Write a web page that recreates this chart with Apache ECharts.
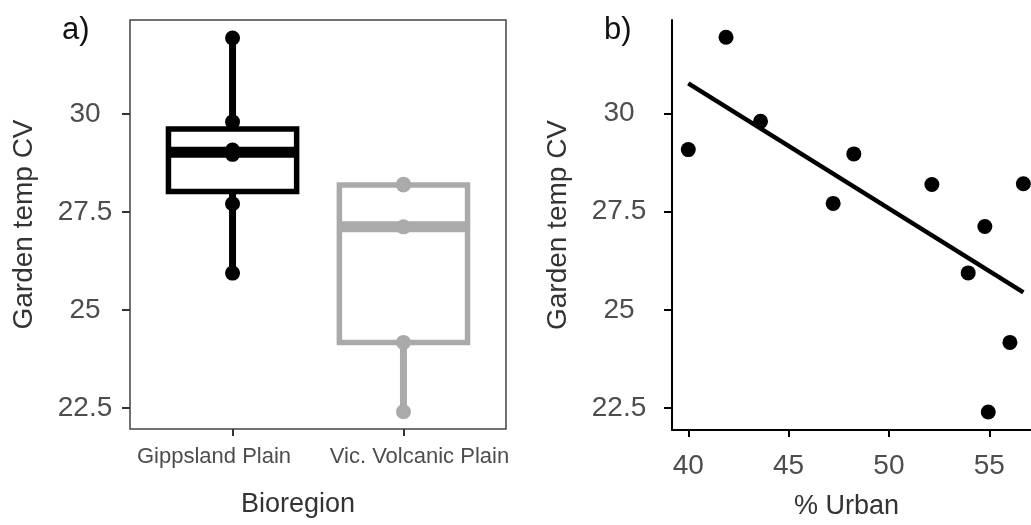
<!DOCTYPE html>
<html><head><meta charset="utf-8">
<script src="https://cdn.jsdelivr.net/npm/echarts@6/dist/echarts.min.js"></script>
<style>html,body{margin:0;padding:0;background:#fff}#c{width:1031px;height:525px}</style>
</head><body><div id="c"></div>
<script>
// ---- data ----
const regions = ['Gippsland Plain', 'Vic. Volcanic Plain'];
const urban    = [40.0, 41.88, 43.6, 47.22, 48.25, 52.14, 53.95, 54.78, 54.95, 56.03, 56.7];
const gardenCV = [29.08, 31.94, 29.80, 27.71, 28.97, 28.19, 25.94, 27.12, 22.40, 24.17, 28.21];
const regionOf = [0, 0, 0, 0, 0, 1, 0, 1, 1, 1, 1];
const cvTicks = [22.5, 25, 27.5, 30];
const urbanTicks = [40, 45, 50, 55];
const regionColors = ['#000000', '#aaaaaa'];
const panelLabels = ['a)', 'b)'];
const titleCV = 'Garden temp CV';
const titleRegion = 'Bioregion';
const titleUrban = '% Urban';

// ---- stats (ggplot-style boxplot, type-7 quantiles) ----
function quantile(sorted, p) {
  const h = (sorted.length - 1) * p, lo = Math.floor(h), hi = Math.ceil(h);
  return sorted[lo] + (h - lo) * (sorted[hi] - sorted[lo]);
}
const boxData = regions.map(function (r, i) {
  const v = gardenCV.filter(function (_, k) { return regionOf[k] === i; }).sort(function (a, b) { return a - b; });
  const q1 = quantile(v, 0.25), md = quantile(v, 0.5), q3 = quantile(v, 0.75), iqr = q3 - q1;
  const inside = v.filter(function (x) { return x >= q1 - 1.5 * iqr && x <= q3 + 1.5 * iqr; });
  return [i + 1, Math.min.apply(null, inside), q1, md, q3, Math.max.apply(null, inside), i];
});
const n = urban.length;
const mx = urban.reduce(function (a, b) { return a + b; }, 0) / n;
const my = gardenCV.reduce(function (a, b) { return a + b; }, 0) / n;
let sxy = 0, sxx = 0;
for (let k = 0; k < n; k++) { sxy += (urban[k] - mx) * (gardenCV[k] - my); sxx += (urban[k] - mx) * (urban[k] - mx); }
const slope = sxy / sxx, icpt = my - slope * mx;
const xLo = Math.min.apply(null, urban), xHi = Math.max.apply(null, urban);
const fitLine = [[xLo, icpt + slope * xLo], [xHi, icpt + slope * xHi]];

const FONT = 'Liberation Sans';
const chart = echarts.init(document.getElementById('c'), null, { renderer: 'canvas' });

chart.setOption({
  animation: false,
  backgroundColor: '#ffffff',
  textStyle: { fontFamily: FONT },
  graphic: [
    { type: 'text', left: 62, top: 15, style: { text: panelLabels[0], font: '31px ' + FONT, fill: '#111' } },
    { type: 'text', left: 604, top: 15, style: { text: panelLabels[1], font: '31px ' + FONT, fill: '#111' } }
  ],
  grid: [
    { left: 130, right: 525, top: 20, bottom: 96, show: true, borderColor: '#444', borderWidth: 1.5, backgroundColor: 'transparent' },
    { left: 672, right: 0, top: 20, bottom: 92 }
  ],
  xAxis: [
    {
      gridIndex: 0, type: 'value', min: 0.4, max: 2.6,
      splitLine: { show: false }, axisLine: { show: false },
      axisTick: { show: true, customValues: [1, 2], length: 7, lineStyle: { color: '#333', width: 2 } },
      axisLabel: {
        customValues: [1, 2], margin: 17,
        formatter: function (v) { return v === 1 ? '{l|' + regions[0] + '}' : '{r|' + regions[1] + '}'; },
        rich: {
          l: { fontSize: 22, color: '#4d4d4d', fontFamily: FONT, padding: [0, 37, 0, 0] },
          r: { fontSize: 22, color: '#4d4d4d', fontFamily: FONT, padding: [0, 0, 0, 32] }
        }
      },
      name: titleRegion, nameLocation: 'middle', nameGap: 62,
      nameTextStyle: { fontSize: 27, color: '#333', fontFamily: FONT, padding: [0, 40, 0, 0] }
    },
    {
      gridIndex: 1, type: 'value', min: 39.188, max: 57.08,
      splitLine: { show: false },
      axisLine: { show: true, lineStyle: { color: '#000', width: 2 } },
      axisTick: { show: true, customValues: urbanTicks, length: 7, lineStyle: { color: '#000', width: 2 } },
      axisLabel: { customValues: urbanTicks, margin: 22, fontSize: 28, color: '#4d4d4d', fontFamily: FONT },
      name: titleUrban, nameLocation: 'middle', nameGap: 63,
      nameTextStyle: { fontSize: 27, color: '#333', fontFamily: FONT, padding: [0, 10, 0, 0] }
    }
  ],
  yAxis: [
    {
      gridIndex: 0, type: 'value', min: 21.96, max: 32.40,
      splitLine: { show: false }, axisLine: { show: false },
      axisTick: { show: true, customValues: cvTicks, length: 8, lineStyle: { color: '#333', width: 2 } },
      axisLabel: { customValues: cvTicks, margin: 45, align: 'center', fontSize: 28, color: '#4d4d4d', fontFamily: FONT },
      name: titleCV, nameLocation: 'middle', nameGap: 92,
      nameTextStyle: { fontSize: 28, color: '#333', fontFamily: FONT }
    },
    {
      gridIndex: 1, type: 'value', min: 21.94, max: 32.38,
      splitLine: { show: false },
      axisLine: { show: true, lineStyle: { color: '#000', width: 2 } },
      axisTick: { show: true, customValues: cvTicks, length: 8, lineStyle: { color: '#000', width: 2 } },
      axisLabel: { customValues: cvTicks, margin: 53, align: 'center', fontSize: 28, color: '#4d4d4d', fontFamily: FONT },
      name: titleCV, nameLocation: 'middle', nameGap: 100,
      nameTextStyle: { fontSize: 28, color: '#333', fontFamily: FONT }
    }
  ],
  series: [
    {
      type: 'custom', xAxisIndex: 0, yAxisIndex: 0, z: 2,
      data: boxData,
      encode: { x: 0, y: [1, 2, 3, 4, 5] },
      renderItem: function (params, api) {
        const x = api.value(0);
        const lo = api.coord([x, api.value(1)]);
        const q1 = api.coord([x, api.value(2)]);
        const md = api.coord([x, api.value(3)]);
        const q3 = api.coord([x, api.value(4)]);
        const hi = api.coord([x, api.value(5)]);
        const half = api.size([0.75, 0])[0] / 2;
        const color = regionColors[api.value(6)];
        return {
          type: 'group', children: [
            { type: 'line', shape: { x1: lo[0], y1: lo[1], x2: q1[0], y2: q1[1] }, style: { stroke: color, lineWidth: 7 } },
            { type: 'line', shape: { x1: q3[0], y1: q3[1], x2: hi[0], y2: hi[1] }, style: { stroke: color, lineWidth: 7 } },
            { type: 'rect', shape: { x: q1[0] - half, y: q3[1], width: 2 * half, height: q1[1] - q3[1] }, style: { fill: '#fff', stroke: color, lineWidth: 5.5, lineJoin: 'miter' } },
            { type: 'line', shape: { x1: md[0] - half, y1: md[1], x2: md[0] + half, y2: md[1] }, style: { stroke: color, lineWidth: 11 } }
          ]
        };
      }
    },
    {
      type: 'scatter', xAxisIndex: 0, yAxisIndex: 0, z: 3, symbolSize: 15,
      data: gardenCV.map(function (v, k) { return { value: [regionOf[k] + 1, v], itemStyle: { color: regionColors[regionOf[k]], opacity: 1 } }; })
    },
    {
      type: 'line', xAxisIndex: 1, yAxisIndex: 1, z: 2, data: fitLine,
      showSymbol: false, lineStyle: { color: '#000', width: 4.5 }
    },
    {
      type: 'scatter', xAxisIndex: 1, yAxisIndex: 1, z: 3, symbolSize: 15,
      itemStyle: { color: '#000', opacity: 1 },
      data: urban.map(function (u, k) { return [u, gardenCV[k]]; })
    }
  ]
});
</script>
</body></html>
